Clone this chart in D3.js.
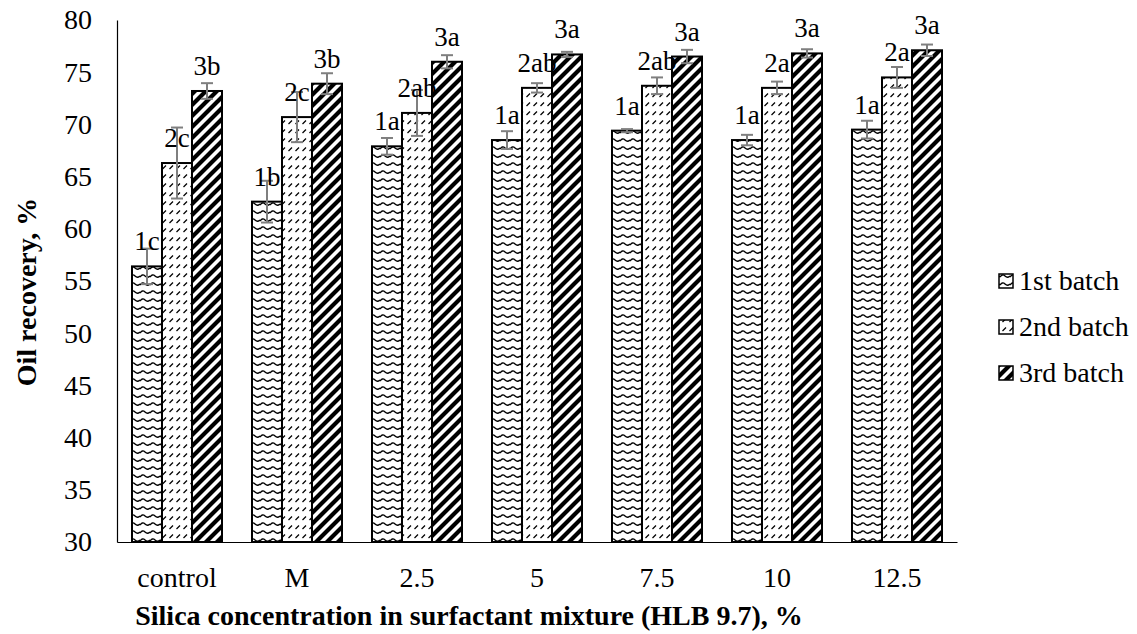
<!DOCTYPE html>
<html>
<head>
<meta charset="utf-8">
<script src="https://cdn.jsdelivr.net/npm/d3@7"></script>
<style>
  html, body { margin: 0; padding: 0; background: #fff; }
  svg { display: block; }
  svg text { font-family: "Liberation Serif", "Times New Roman", "DejaVu Serif", serif !important; fill: #000; }
</style>
</head>
<body>
<svg id="chart" width="1137" height="634"></svg>
<script>
const categories = ["control", "M", "2.5", "5", "7.5", "10", "12.5"];
const seriesNames = ["1st batch", "2nd batch", "3rd batch"];
const batch1 = [56.4, 62.6, 67.9, 68.5, 69.4, 68.5, 69.5];
const batch2 = [66.3, 70.7, 71.1, 73.5, 73.7, 73.5, 74.5];
const batch3 = [73.2, 73.9, 76.0, 76.7, 76.5, 76.8, 77.1];
const err1 = [1.7, 2.0, 0.8, 0.85, 0.15, 0.5, 0.85];
const err2 = [3.4, 2.4, 2.2, 0.45, 0.8, 0.6, 1.0];
const err3 = [0.75, 1.0, 0.63, 0.25, 0.64, 0.4, 0.55];
const labels1 = ["1c", "1b", "1a", "1a", "1a", "1a", "1a"];
const labels2 = ["2c", "2c", "2ab", "2ab", "2ab", "2a", "2a"];
const labels3 = ["3b", "3b", "3a", "3a", "3a", "3a", "3a"];
const yTicks = [30, 35, 40, 45, 50, 55, 60, 65, 70, 75, 80];
const yTitle = "Oil recovery, %";
const xTitle = "Silica concentration in surfactant mixture (HLB 9.7), %";

(function () {
const FONT = '"Liberation Serif", "Times New Roman", serif';
const values = [batch1, batch2, batch3];
const errors = [err1, err2, err3];
const labels = [labels1, labels2, labels3];

const svg = d3.select("#chart").style("font-family", FONT);
const pLeft = 117, pRight = 957, pTop = 20, pBottom = 542;

const x = d3.scaleBand().domain(categories).range([pLeft, pRight]).paddingInner(0.25).paddingOuter(0.125);
const xs = d3.scaleBand().domain(seriesNames).range([0, x.bandwidth()]).padding(0);
const y = d3.scaleLinear().domain([30, 80]).range([pBottom, pTop]);

// patterns
const defs = svg.append("defs");
const p1 = defs.append("pattern").attr("id", "pat0").attr("patternUnits", "userSpaceOnUse")
  .attr("width", 10).attr("height", 8);
p1.append("rect").attr("width", 10).attr("height", 8).attr("fill", "#fff");
p1.append("path").attr("d", "M0 5 Q2.5 1.5 5 4 T10 4").attr("fill", "none")
  .attr("stroke", "#000").attr("stroke-width", 1.3);
const p2 = defs.append("pattern").attr("id", "pat1").attr("patternUnits", "userSpaceOnUse")
  .attr("width", 7).attr("height", 9);
p2.append("rect").attr("width", 7).attr("height", 9).attr("fill", "#fff");
p2.append("path").attr("d", "M1.5 7 L5 3.5").attr("fill", "none")
  .attr("stroke", "#000").attr("stroke-width", 1.3);
const p3 = defs.append("pattern").attr("id", "pat2").attr("patternUnits", "userSpaceOnUse")
  .attr("width", 11).attr("height", 11);
p3.append("rect").attr("width", 11).attr("height", 11).attr("fill", "#fff");
p3.append("path").attr("d", "M-3 14 L14 -3 M-3 3 L3 -3 M8 14 L14 8").attr("fill", "none")
  .attr("stroke", "#000").attr("stroke-width", 4.2);

// axes
const yAxis = d3.axisLeft(y).tickValues(yTicks).tickSize(0).tickPadding(25);
const gy = svg.append("g").attr("transform", `translate(${pLeft},0)`).call(yAxis);
gy.attr("font-family", null);
gy.select(".domain").attr("stroke", "#000").attr("stroke-width", 1.2);
gy.selectAll("text").style("font-size", "28px").style("font-family", FONT);

const xAxis = d3.axisBottom(x).tickSize(0).tickPadding(25);
const gx = svg.append("g").attr("transform", `translate(0,${pBottom})`).call(xAxis);
gx.attr("font-family", null);
gx.select(".domain").attr("stroke", "#000").attr("stroke-width", 1.2);
gx.selectAll("text").style("font-size", "28px").style("font-family", FONT);

// bars
seriesNames.forEach((s, si) => {
  const g = svg.append("g");
  categories.forEach((c, ci) => {
    const v = values[si][ci];
    const bx = x(c) + xs(s);
    g.append("rect")
      .attr("x", bx).attr("y", y(v))
      .attr("width", xs.bandwidth()).attr("height", y(30) - y(v))
      .attr("fill", `url(#pat${si})`).attr("stroke", "#000").attr("stroke-width", 2);
  });
});

// error bars
seriesNames.forEach((s, si) => {
  const g = svg.append("g").attr("stroke", "#7f7f7f").attr("stroke-width", 2);
  categories.forEach((c, ci) => {
    const v = values[si][ci], e = errors[si][ci];
    const cx = x(c) + xs(s) + xs.bandwidth() / 2;
    g.append("line").attr("x1", cx).attr("x2", cx).attr("y1", y(v + e)).attr("y2", y(v - e));
    g.append("line").attr("x1", cx - 6).attr("x2", cx + 6).attr("y1", y(v + e)).attr("y2", y(v + e));
    g.append("line").attr("x1", cx - 6).attr("x2", cx + 6).attr("y1", y(v - e)).attr("y2", y(v - e));
  });
});

// data labels
seriesNames.forEach((s, si) => {
  categories.forEach((c, ci) => {
    const v = values[si][ci];
    const cx = x(c) + xs(s) + xs.bandwidth() / 2;
    svg.append("text").attr("x", cx).attr("y", y(v) - 16)
      .attr("text-anchor", "middle").style("font-size", "27px").style("font-family", FONT)
      .text(labels[si][ci]);
  });
});

// axis titles
svg.append("text").attr("transform", `translate(36,292) rotate(-90)`)
  .attr("text-anchor", "middle").style("font-size", "28px").style("font-weight", "bold")
  .style("font-family", FONT).text(yTitle);
svg.append("text").attr("x", 469).attr("y", 625)
  .attr("text-anchor", "middle").style("font-size", "28px").style("font-weight", "bold")
  .style("font-family", FONT).text(xTitle);

// legend
const lg = svg.append("g");
seriesNames.forEach((s, si) => {
  const ly = 281 + si * 46;
  lg.append("rect").attr("x", 999).attr("y", ly - 7).attr("width", 14).attr("height", 14)
    .attr("fill", `url(#pat${si})`).attr("stroke", "#000").attr("stroke-width", 1.5);
  lg.append("text").attr("x", 1019).attr("y", ly + 9).style("font-size", "28px")
    .style("font-family", FONT).text(s);
});
})();
</script>
</body>
</html>
